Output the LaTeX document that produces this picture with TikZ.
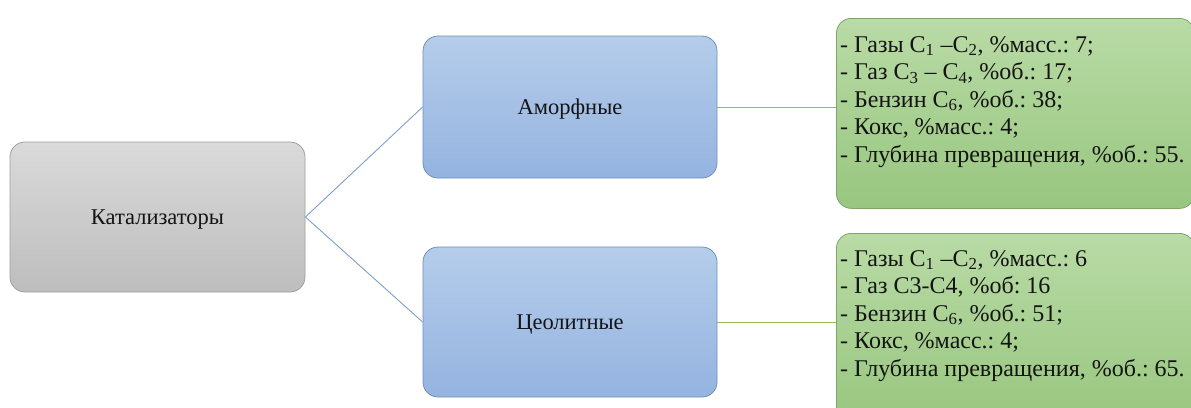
\documentclass[tikz,border=0pt]{standalone}
\usepackage{fontspec}
\setmainfont{Liberation Serif}
\definecolor{grayTop}{HTML}{DADADA}
\definecolor{grayBot}{HTML}{BDBDBD}
\definecolor{grayLine}{HTML}{A0A0A0}
\definecolor{blueTop}{HTML}{B5CDEA}
\definecolor{blueBot}{HTML}{94B3E0}
\definecolor{blueLine}{HTML}{7090B8}
\definecolor{greenTop}{HTML}{B9DBA6}
\definecolor{greenBot}{HTML}{98C67F}
\definecolor{greenLine}{HTML}{7FA56A}
\definecolor{linkBlue}{HTML}{7DA0CC}
\definecolor{linkGreen}{HTML}{9BBB59}
\definecolor{ink}{HTML}{141414}
\tikzset{
  box/.style={rounded corners=15pt, line width=0.8pt, inner sep=0pt, text=ink,
    font=\fontsize{22.5}{27}\selectfont, text height=15pt, text depth=0pt},
  graybox/.style={box, draw=grayLine, top color=grayTop, bottom color=grayBot},
  bluebox/.style={box, draw=blueLine, top color=blueTop, bottom color=blueBot},
  greenbox/.style={box, draw=greenLine, top color=greenTop, bottom color=greenBot},
  listtext/.style={anchor=base west, inner sep=0pt, text=ink, font=\fontsize{24}{27.5}\selectfont},
  bluelink/.style={draw=linkBlue, line width=0.9pt},
  greenlink/.style={draw=linkGreen, line width=0.9pt}
}
\frenchspacing
\begin{document}
\begin{tikzpicture}[x=1pt,y=-1pt]
\useasboundingbox (0,0) rectangle (1191,407);
\fill[white] (0,0) rectangle (1191,407);
% root
\node[graybox, minimum width=295pt, minimum height=150pt] (cat) at (157.5,217) {Катализаторы};
% catalyst types
\node[bluebox, minimum width=294pt, minimum height=142pt] (amorph) at (570,107) {Аморфные};
\node[bluebox, minimum width=294pt, minimum height=150pt] (zeol) at (570,322) {Цеолитные};
% product yields
\node[greenbox, minimum width=358pt, minimum height=190pt, anchor=north west] (resA) at (836,18) {};
\node[greenbox, minimum width=358pt, minimum height=189pt, anchor=north west] (resZ) at (836,233) {};
\node[listtext] (listA) at (840,52) {\begin{tabular}[t]{@{}l@{}}
- Газы C\textsubscript{1} –C\textsubscript{2}, \%масс.: 7;\\
- Газ C\textsubscript{3} – C\textsubscript{4}, \%об.: 17;\\
- Бензин C\textsubscript{6}, \%об.: 38;\\
- Кокс, \%масс.: 4;\\
- Глубина превращения, \%об.: 55.
\end{tabular}};
\node[listtext] (listZ) at (840,266) {\begin{tabular}[t]{@{}l@{}}
- Газы C\textsubscript{1} –C\textsubscript{2}, \%масс.: 6\\
- Газ C3-C4, \%об: 16\\
- Бензин C\textsubscript{6}, \%об.: 51;\\
- Кокс, \%масс.: 4;\\
- Глубина превращения, \%об.: 65.
\end{tabular}};
% connectors
\draw[bluelink] (cat.east) -- (amorph.west);
\draw[bluelink] (cat.east) -- (zeol.west);
\draw[greenlink] (amorph.east) -- (amorph.east -| resA.west);
\draw[greenlink] (zeol.east) -- (zeol.east -| resZ.west);
\end{tikzpicture}
\end{document}
